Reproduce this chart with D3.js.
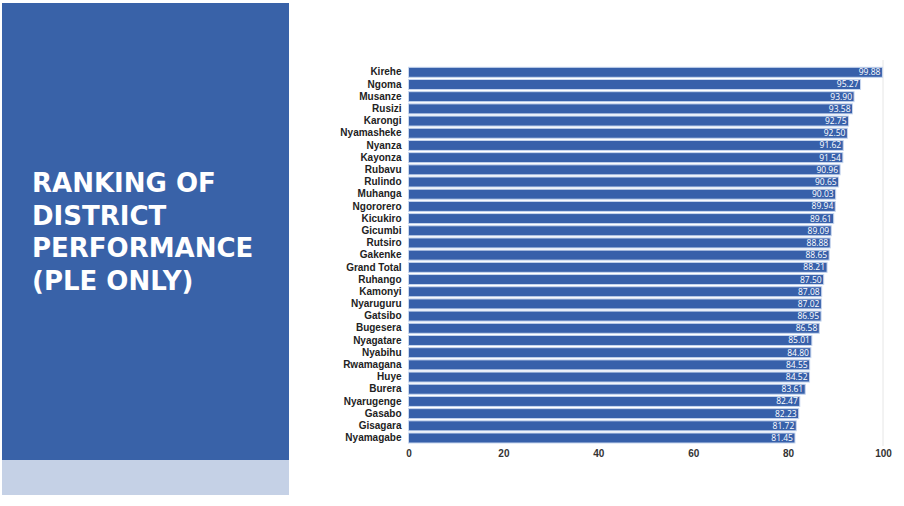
<!DOCTYPE html>
<html lang="en">
  <head>
    <meta charset="utf-8">
    <title>Ranking of district performance</title>
    <script src="https://cdn.jsdelivr.net/npm/d3@7"></script>
    <style>
      body { margin: 0; background: #fff; }
      svg { display: block; font-family: "Open Sans", "DejaVu Sans", sans-serif; }
    </style>
  </head>
  <body>
    <script>
      const WIDTH = 904, HEIGHT = 506;

      // districts, top to bottom
      var districts = ["Kirehe", "Ngoma", "Musanze", "Rusizi", "Karongi", "Nyamasheke",
        "Nyanza", "Kayonza", "Rubavu", "Rulindo", "Muhanga", "Ngororero", "Kicukiro",
        "Gicumbi", "Rutsiro", "Gakenke", "Grand Total", "Ruhango", "Kamonyi", "Nyaruguru",
        "Gatsibo", "Bugesera", "Nyagatare", "Nyabihu", "Rwamagana", "Huye", "Burera",
        "Nyarugenge", "Gasabo", "Gisagara", "Nyamagabe"];
      var scores = [99.88, 95.27, 93.90, 93.58, 92.75, 92.50, 91.62, 91.54, 90.96, 90.65,
        90.03, 89.94, 89.61, 89.09, 88.88, 88.65, 88.21, 87.50, 87.08, 87.02, 86.95, 86.58,
        85.01, 84.80, 84.55, 84.52, 83.61, 82.47, 82.23, 81.72, 81.45];
      var xTicks = [0, 20, 40, 60, 80, 100];
      var titleLines = ["RANKING OF", "DISTRICT", "PERFORMANCE", "(PLE ONLY)"];

      const BLUE = "#3962a8";
      const BAR = "#3760aa";

      var svg = d3.select("body").append("svg")
        .attr("width", WIDTH)
        .attr("height", HEIGHT);

      // left title panel
      svg.append("rect")
        .attr("x", 2).attr("y", 3)
        .attr("width", 287).attr("height", 457)
        .attr("fill", BLUE);
      svg.append("rect")
        .attr("x", 2).attr("y", 460)
        .attr("width", 287).attr("height", 35)
        .attr("fill", "#c5d1e6");

      svg.append("g")
        .selectAll("text")
        .data(titleLines)
        .join("text")
        .attr("x", 32)
        .attr("y", (d, i) => 192 + i * 32.5)
        .attr("fill", "#fff")
        .attr("font-family", "'DejaVu Sans', sans-serif")
        .attr("font-size", 26)
        .attr("font-weight", 700)
        .text(d => d);

      // chart
      var x = d3.scaleLinear().domain([0, 100]).range([408.5, 883]);
      var y = d3.scaleBand().domain(districts).range([66.2, 444.1])
        .paddingInner(0.18).paddingOuter(0.09);

      // gridline at the right end
      svg.append("line")
        .attr("x1", x(100)).attr("x2", x(100))
        .attr("y1", 60).attr("y2", 446)
        .attr("stroke", "#e6e6e6");

      svg.append("g")
        .selectAll("rect")
        .data(scores)
        .join("rect")
        .attr("x", x(0))
        .attr("y", (d, i) => y(districts[i]))
        .attr("width", d => x(d) - x(0))
        .attr("height", y.bandwidth())
        .attr("fill", BAR)
        .attr("stroke", "#c8d7ef")
        .attr("stroke-width", 1);

      svg.append("g")
        .selectAll("text")
        .data(scores)
        .join("text")
        .attr("x", d => x(d) - 2)
        .attr("y", (d, i) => y(districts[i]) + y.bandwidth() / 2)
        .attr("dy", "0.35em")
        .attr("text-anchor", "end")
        .attr("fill", "#fff")
        .attr("font-size", 8.5)
        .text(d => d.toFixed(2));

      var yAxis = svg.append("g")
        .attr("transform", "translate(" + (x(0) - 7) + ",0)")
        .call(d3.axisLeft(y).tickSize(0).tickPadding(0));
      yAxis.select(".domain").remove();
      yAxis.selectAll("text")
        .attr("font-size", 10)
        .attr("font-weight", 600)
        .attr("fill", "#222")
        .attr("font-family", null);

      var xAxis = svg.append("g")
        .attr("transform", "translate(0," + 448 + ")")
        .call(d3.axisBottom(x).tickValues(xTicks).tickSize(0).tickPadding(2));
      xAxis.select(".domain").remove();
      xAxis.selectAll("text")
        .attr("font-size", 10)
        .attr("font-weight", 600)
        .attr("fill", "#333")
        .attr("font-family", null);
    </script>
  </body>
</html>
